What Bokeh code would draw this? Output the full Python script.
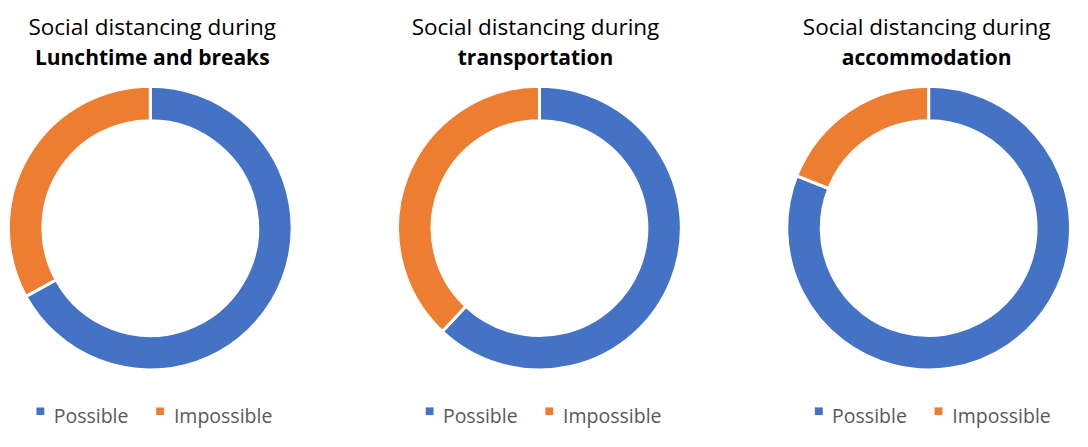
import numpy as np
from bokeh.plotting import figure
from bokeh.models import Range1d, ColumnDataSource
from bokeh.core.properties import value
from bokeh.embed import file_html
from bokeh.resources import INLINE

# ---- data ----
title_prefix = "Social distancing during"
chart_titles = ["Lunchtime and breaks", "transportation", "accommodation"]
categories = ["Possible", "Impossible"]
possible = [67, 62, 81]
impossible = [33, 38, 19]
colors = ["#4472C4", "#ED7D31"]

# ---- layout (reference pixel coordinates, 1088 x 447) ----
REF_W, REF_H = 1088, 447
def Y(ref_y):
    return REF_H - ref_y

centers_x = [152, 547, 942]
title_x = [154, 543, 940]
center_y = 236
outer_r = 144
inner_r = 109

p = figure(width=1072, height=431, x_range=Range1d(0, REF_W), y_range=Range1d(0, REF_H),
           output_backend="svg", toolbar_location=None, min_border=0)
p.axis.visible = False
p.grid.visible = False
p.outline_line_color = None
p.background_fill_color = "white"
p.border_fill_color = "white"

for i, cx in enumerate(centers_x):
    vals = np.array([possible[i], impossible[i]], dtype=float)
    frac = vals / vals.sum()
    # clockwise from 12 o'clock
    ends = np.pi / 2 - 2 * np.pi * np.concatenate([[0], np.cumsum(frac)[:-1]])
    starts = np.pi / 2 - 2 * np.pi * np.cumsum(frac)
    src = ColumnDataSource(dict(x=[cx] * 2, y=[Y(center_y)] * 2, start=list(starts),
                                end=list(ends), color=colors, cat=categories))
    p.annular_wedge(x="x", y="y", inner_radius=inner_r, outer_radius=outer_r,
                    start_angle="start", end_angle="end", direction="anticlock",
                    fill_color="color", line_color="white", line_width=3, source=src)

    # titles
    p.text(x=[title_x[i]], y=[Y(27)], text=[title_prefix], text_align="center",
           text_baseline="alphabetic", text_font=value("Open Sans"),
           text_font_size="22.5px", text_color="#000000")
    p.text(x=[title_x[i]], y=[Y(59)], text=[chart_titles[i]], text_align="center",
           text_baseline="alphabetic", text_font=value("Open Sans"),
           text_font_size="21px", text_font_style="bold", text_color="#000000")

    # legend
    sq_x = [cx - 111.5, cx + 10]
    tx_x = [cx - 98, cx + 24]
    p.rect(x=sq_x, y=[Y(426)] * 2, width=8, height=8, fill_color=colors, line_color=None)
    p.text(x=tx_x, y=[Y(430)] * 2, text=categories, text_align="left",
           text_baseline="alphabetic", text_font=value("Open Sans"),
           text_font_size="19.5px", text_color="#595959")

open("out.html", "w").write(file_html(p, INLINE))
